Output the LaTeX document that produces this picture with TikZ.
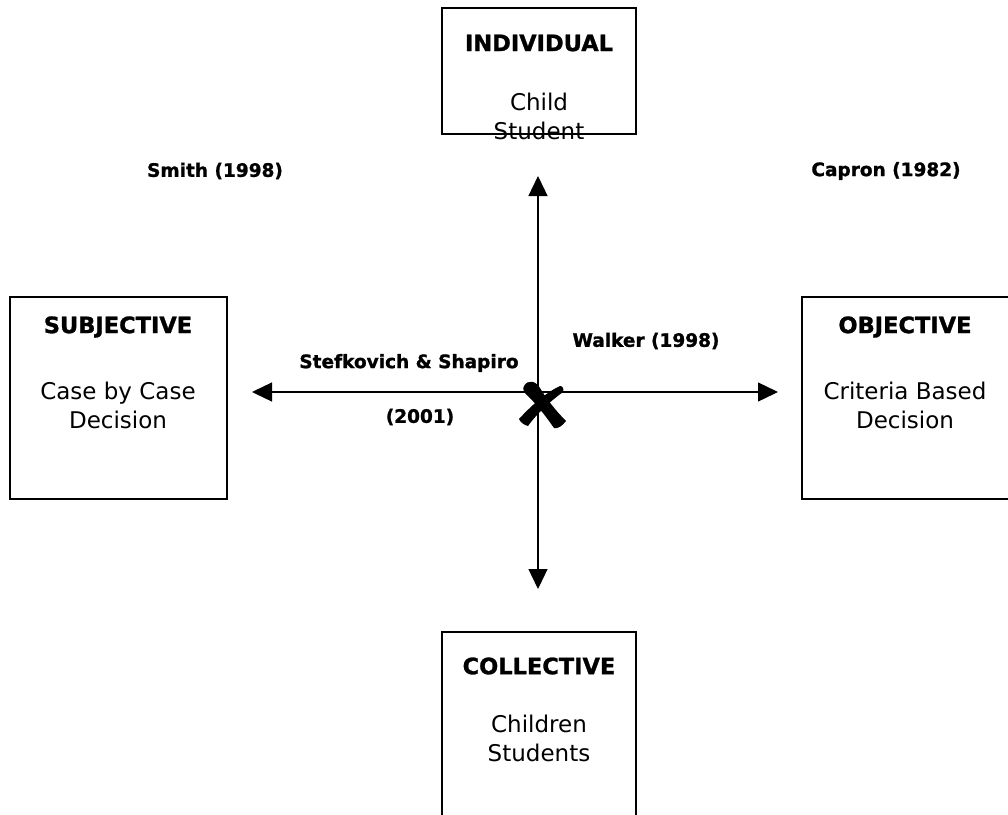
\documentclass[tikz,border=0pt]{standalone}
\usepackage{fontspec}
\setmainfont{DejaVu Sans}[BoldFeatures={FakeBold=1.2}]
\usetikzlibrary{arrows.meta}
\tikzset{
  box/.style={draw, line width=1.3pt, inner sep=0pt},
  ttl/.style={font=\fontsize{22.5}{26}\selectfont\bfseries, inner sep=0pt},
  body/.style={font=\fontsize{23}{29}\selectfont, inner sep=0pt, align=center},
  cite/.style={font=\fontsize{18.5}{22}\selectfont\bfseries, inner sep=0pt},
  arr/.style={line width=1.3pt, -{Triangle[length=20pt,width=19pt]}},
  xmark/.style={fill=black, draw=none}
}
\begin{document}
\begin{tikzpicture}[x=1pt,y=-1pt]
\clip (0,0) rectangle (1008,814);
\fill[white] (0,0) rectangle (1008,814);
% boxes
\node[box, minimum width=194pt, minimum height=126pt] (ind) at (539,71) {};
\node[box, minimum width=217pt, minimum height=202pt] (sub) at (118.5,398) {};
\node[box, minimum width=212pt, minimum height=202pt] (obj) at (908,398) {};
\node[box, minimum width=194pt, minimum height=200pt] (col) at (539,732) {};
% texts
\node[ttl] (indT) at (539,43) {INDIVIDUAL};
\node[body] (indB) at (539,116) {Child\\Student};
\node[ttl] (subT) at (118,327) {SUBJECTIVE};
\node[body] (subB) at (118,405) {Case by Case\\Decision};
\node[ttl] (objT) at (905,327) {OBJECTIVE};
\node[body] (objB) at (905,405) {Criteria Based\\Decision};
\node[ttl] (colT) at (539,666) {COLLECTIVE};
\node[body] (colB) at (539,738) {Children\\Students};
% citations
\node[cite] (smith) at (215,171) {Smith (1998)};
\node[cite] (capron) at (886,171) {Capron (1982)};
\node[cite] (walker) at (646,341) {Walker (1998)};
\node[cite] (stef) at (409,363) {Stefkovich \& Shapiro};
\node[cite] (stefy) at (420,417) {(2001)};
% axes
\coordinate (c) at (538,392);
\coordinate (tipN) at (538,176);
\coordinate (tipS) at (538,589);
\coordinate (tipW) at (252,392);
\coordinate (tipE) at (778,392);
\draw[arr] (c) -- (tipN);
\draw[arr] (c) -- (tipS);
\draw[arr] (c) -- (tipW);
\draw[arr] (c) -- (tipE);
% cross mark (calligraphic x)
\fill[xmark] (524,386) .. controls (528,379) and (536,381) .. (540,388)
   .. controls (546,398) and (555,410) .. (566,421)
   .. controls (562,426) and (558,429) .. (554,428)
   .. controls (547,418) and (538,406) .. (529,397)
   .. controls (524,393) and (522,389) .. (524,386) -- cycle;
\fill[xmark] (560,386) .. controls (563,386) and (564,389) .. (563,392)
   .. controls (552,400) and (538,412) .. (528,426)
   .. controls (524,425) and (520,422) .. (519,419)
   .. controls (530,407) and (545,393) .. (560,386) -- cycle;
\end{tikzpicture}
\end{document}
